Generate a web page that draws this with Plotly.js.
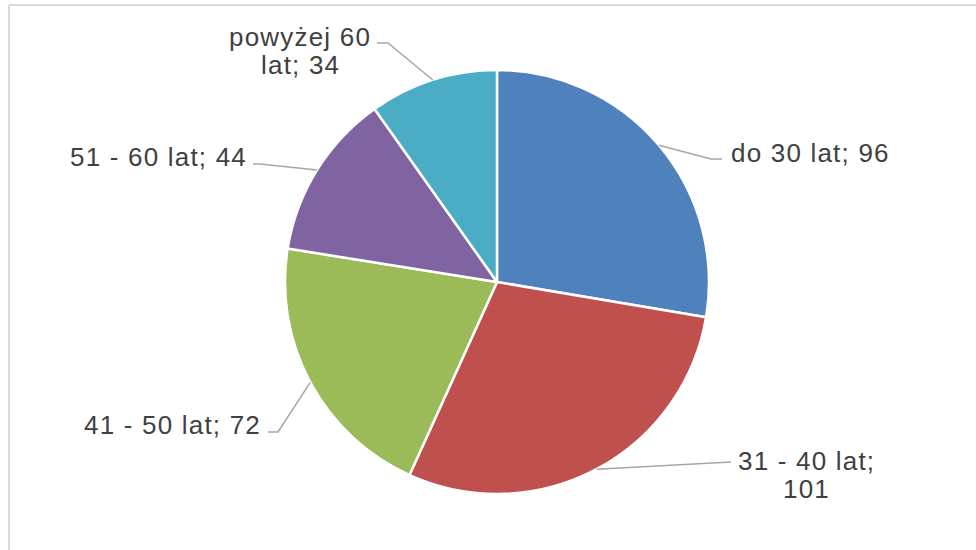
<!DOCTYPE html>
<html>
<head>
<meta charset="utf-8">
<script src="https://cdn.plot.ly/plotly-3.0.1.min.js"></script>
<style>html,body{margin:0;padding:0;background:#fff;}#chart{width:976px;height:550px;}
.annotation-text{letter-spacing:1.2px;}</style>
</head>
<body>
<div id="chart"></div>
<script>
// ---- data ----
var categories = ["do 30 lat", "31 - 40 lat", "41 - 50 lat", "51 - 60 lat", "powyżej 60 lat"];
var values = [96, 101, 72, 44, 34];
var colors = ["#4F81BD", "#C0504D", "#9BBB59", "#8064A2", "#4BACC6"];
// label text lines (how each label wraps)
var labelLines = [
  ["do 30 lat; 96"],
  ["31 - 40 lat;", "101"],
  ["41 - 50 lat; 72"],
  ["51 - 60 lat; 44"],
  ["powyżej 60", "lat; 34"]
];

// ---- layout geometry (pixels) ----
var W = 976, H = 550;
var cx = 497, cy = 282, R = 212;
// label placement: elbow point, end of leader, text anchor x, first line centre y, xanchor
var labelPos = [
  {elbow:[711,159], end:[722,159], tx:729, ty:153, xa:"left"},
  {elbow:[731,462], end:[731,462], tx:806, ty:461, xa:"center"},
  {elbow:[278,432], end:[268,432], tx:263, ty:425, xa:"right"},
  {elbow:[260,164], end:[253,164], tx:249, ty:157, xa:"right"},
  {elbow:[388,43],  end:[377,43],  tx:300, ty:37,  xa:"center"}
];
var lineGap = 28;

function px(x){return x/W;}
function py(y){return 1 - y/H;}

var total = values.reduce(function(a,b){return a+b;},0);
var shapes = [
  {type:"line", xref:"paper", yref:"paper", x0:px(9), y0:py(5), x1:px(976), y1:py(5), line:{color:"#D9D9D9", width:2}},
  {type:"line", xref:"paper", yref:"paper", x0:px(9), y0:py(5), x1:px(9), y1:py(550), line:{color:"#D9D9D9", width:2}}
];
var annotations = [];
var cum = 0;
for (var i = 0; i < values.length; i++) {
  var mid = (cum + values[i]/2) / total * 2 * Math.PI;
  cum += values[i];
  var ex = cx + R*Math.sin(mid), ey = cy - R*Math.cos(mid);
  var p = labelPos[i];
  shapes.push({type:"path", xref:"paper", yref:"paper",
    path:"M"+px(ex)+","+py(ey)+" L"+px(p.elbow[0])+","+py(p.elbow[1])+" L"+px(p.end[0])+","+py(p.end[1]),
    line:{color:"#A6A6A6", width:1.5}});
  for (var j = 0; j < labelLines[i].length; j++) {
    annotations.push({xref:"paper", yref:"paper", x:px(p.tx), y:py(p.ty + j*lineGap),
      text:labelLines[i][j], showarrow:false, xanchor:p.xa, yanchor:"middle",
      font:{family:"Liberation Sans, Arial, sans-serif", size:26, color:"#404040"}});
  }
}

var trace = {
  type:"pie",
  labels:categories,
  values:values,
  sort:false,
  direction:"clockwise",
  rotation:0,
  textinfo:"none",
  hoverinfo:"label+value",
  marker:{colors:colors, line:{color:"#FFFFFF", width:2.5}},
  domain:{x:[px(cx-R), px(cx+R)], y:[py(cy+R), py(cy-R)]},
  showlegend:false
};

var layout = {
  width:W, height:H,
  margin:{l:0, r:0, t:0, b:0},
  paper_bgcolor:"#FFFFFF",
  showlegend:false,
  shapes:shapes,
  annotations:annotations
};

Plotly.newPlot("chart", [trace], layout, {displayModeBar:false, staticPlot:true});
</script>
</body>
</html>
